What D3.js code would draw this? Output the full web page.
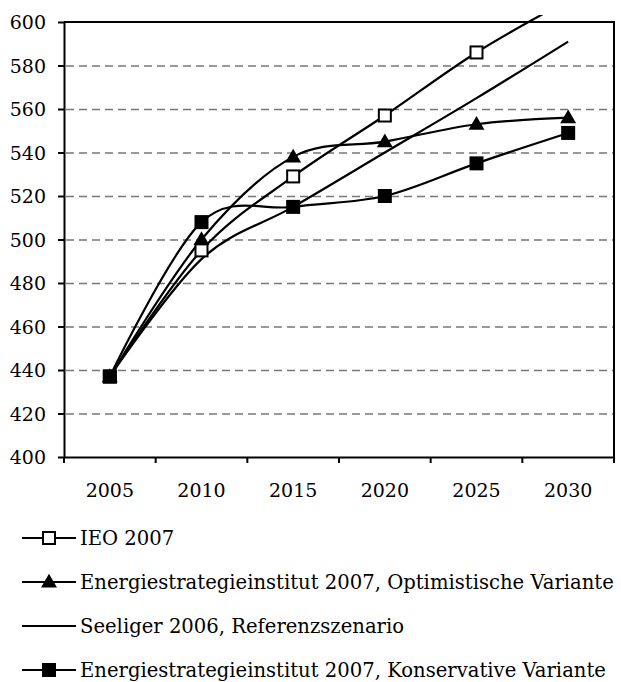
<!DOCTYPE html>
<html lang="de">
<head>
<meta charset="utf-8">
<title>Prognosen</title>
<script src="https://cdn.jsdelivr.net/npm/d3@7"></script>
<style>
  body { margin: 0; background: #fff; }
  svg text { font-family: "DejaVu Serif", serif; font-size: 19px; fill: #000; }
  .legend text { font-size: 19.6px; }
  .grid line { stroke: #777; stroke-width: 1.4; stroke-dasharray: 8,5; }
  .grid path { stroke-width: 0; }
  .axis path, .axis line { stroke: #000; stroke-width: 2; }
</style>
</head>
<body>
<script>
// data
var years = ["2005", "2010", "2015", "2020", "2025", "2030"];
var yTicks = [400, 420, 440, 460, 480, 500, 520, 540, 560, 580, 600];
var ieo = [437, 495, 529, 557, 586, 610];
var optimistisch = [437, 500, 538, 545, 553, 556];
var seeliger = [437, 491, 515, 540, 565, 591];
var konservativ = [437, 508, 515, 520, 535, 549];

var series = [
  {name: "IEO 2007", values: ieo, marker: "open"},
  {name: "Energiestrategieinstitut 2007, Optimistische Variante", values: optimistisch, marker: "triangle"},
  {name: "Seeliger 2006, Referenzszenario", values: seeliger, marker: "none"},
  {name: "Energiestrategieinstitut 2007, Konservative Variante", values: konservativ, marker: "square"}
];

var W = 621, H = 682;
var pLeft = 64, pRight = 614, pTop = 22, pBottom = 457;

var svg = d3.select("body").append("svg")
  .attr("width", W).attr("height", H);

var x = d3.scaleBand().domain(years).range([pLeft, pRight]);
var y = d3.scaleLinear().domain([400, 600]).range([pBottom, pTop]);
var cx = function(d){ return x(d) + x.bandwidth() / 2; };

// clip (lines may run a bit above the plot area)
svg.append("clipPath").attr("id", "clip")
  .append("rect").attr("x", 0).attr("y", 15).attr("width", W).attr("height", H);

// gridlines
svg.append("g")
  .attr("class", "grid")
  .attr("transform", "translate(" + pLeft + ",0)")
  .call(d3.axisLeft(y).tickValues(yTicks.slice(1, -1)).tickSize(-(pRight - pLeft)).tickFormat(""))
  .selectAll("line").attr("x1", 2);

// plot border (top/right)
svg.append("path")
  .attr("d", "M" + pLeft + "," + pTop + "H" + pRight + "V" + pBottom)
  .attr("fill", "none").attr("stroke", "#000").attr("stroke-width", 2);

// y axis
var yAxis = svg.append("g")
  .attr("class", "axis")
  .attr("transform", "translate(" + pLeft + ",0)")
  .call(d3.axisLeft(y).tickValues(yTicks).tickSize(6).tickPadding(12).tickSizeOuter(0));
yAxis.selectAll("text").attr("dy", "0.36em");

// x axis
var xAxis = svg.append("g")
  .attr("class", "axis")
  .attr("transform", "translate(0," + pBottom + ")")
  .call(d3.axisBottom(x).tickSize(0).tickPadding(33).tickSizeOuter(0));
xAxis.selectAll("text").attr("dy", "0.36em");
xAxis.selectAll(".boundary")
  .data(years.map(function(d){ return x(d); }).concat([pRight]))
  .enter().append("line")
  .attr("class", "boundary")
  .attr("x1", function(d){ return d; }).attr("x2", function(d){ return d; })
  .attr("y1", 0).attr("y2", 6)
  .attr("stroke", "#000").attr("stroke-width", 2);

// lines
var line = d3.line()
  .x(function(d, i){ return cx(years[i]); })
  .y(function(d){ return y(d); })
  .curve(d3.curveCardinal.tension(0));

var plot = svg.append("g").attr("clip-path", "url(#clip)");

plot.selectAll(".series")
  .data(series)
  .enter().append("path")
  .attr("class", "series")
  .attr("d", function(d){ return line(d.values); })
  .attr("fill", "none").attr("stroke", "#000").attr("stroke-width", 2.2);

function drawMarker(g, type, px, py) {
  if (type == "open") {
    g.append("rect").attr("x", px - 6).attr("y", py - 6).attr("width", 12).attr("height", 12)
      .attr("fill", "#fff").attr("stroke", "#000").attr("stroke-width", 2);
  } else if (type == "square") {
    g.append("rect").attr("x", px - 7).attr("y", py - 7).attr("width", 14).attr("height", 14)
      .attr("fill", "#000");
  } else if (type == "triangle") {
    g.append("path").attr("transform", "translate(" + px + "," + (py + 1) + ")")
      .attr("d", d3.symbol().type(d3.symbolTriangle).size(110))
      .attr("fill", "#000");
  }
}

var markers = plot.append("g");
series.forEach(function(s){
  s.values.forEach(function(v, i){
    drawMarker(markers, s.marker, cx(years[i]), y(v));
  });
});

// legend
var legend = svg.append("g").attr("class", "legend");
series.forEach(function(s, i){
  var ly = 538 + i * 44;
  legend.append("line")
    .attr("x1", 22).attr("x2", 76).attr("y1", ly).attr("y2", ly)
    .attr("stroke", "#000").attr("stroke-width", 2.2);
  drawMarker(legend, s.marker, 49, ly);
  legend.append("text")
    .attr("x", 80).attr("y", ly).attr("dy", "0.36em")
    .text(s.name);
});
</script>
</body>
</html>
